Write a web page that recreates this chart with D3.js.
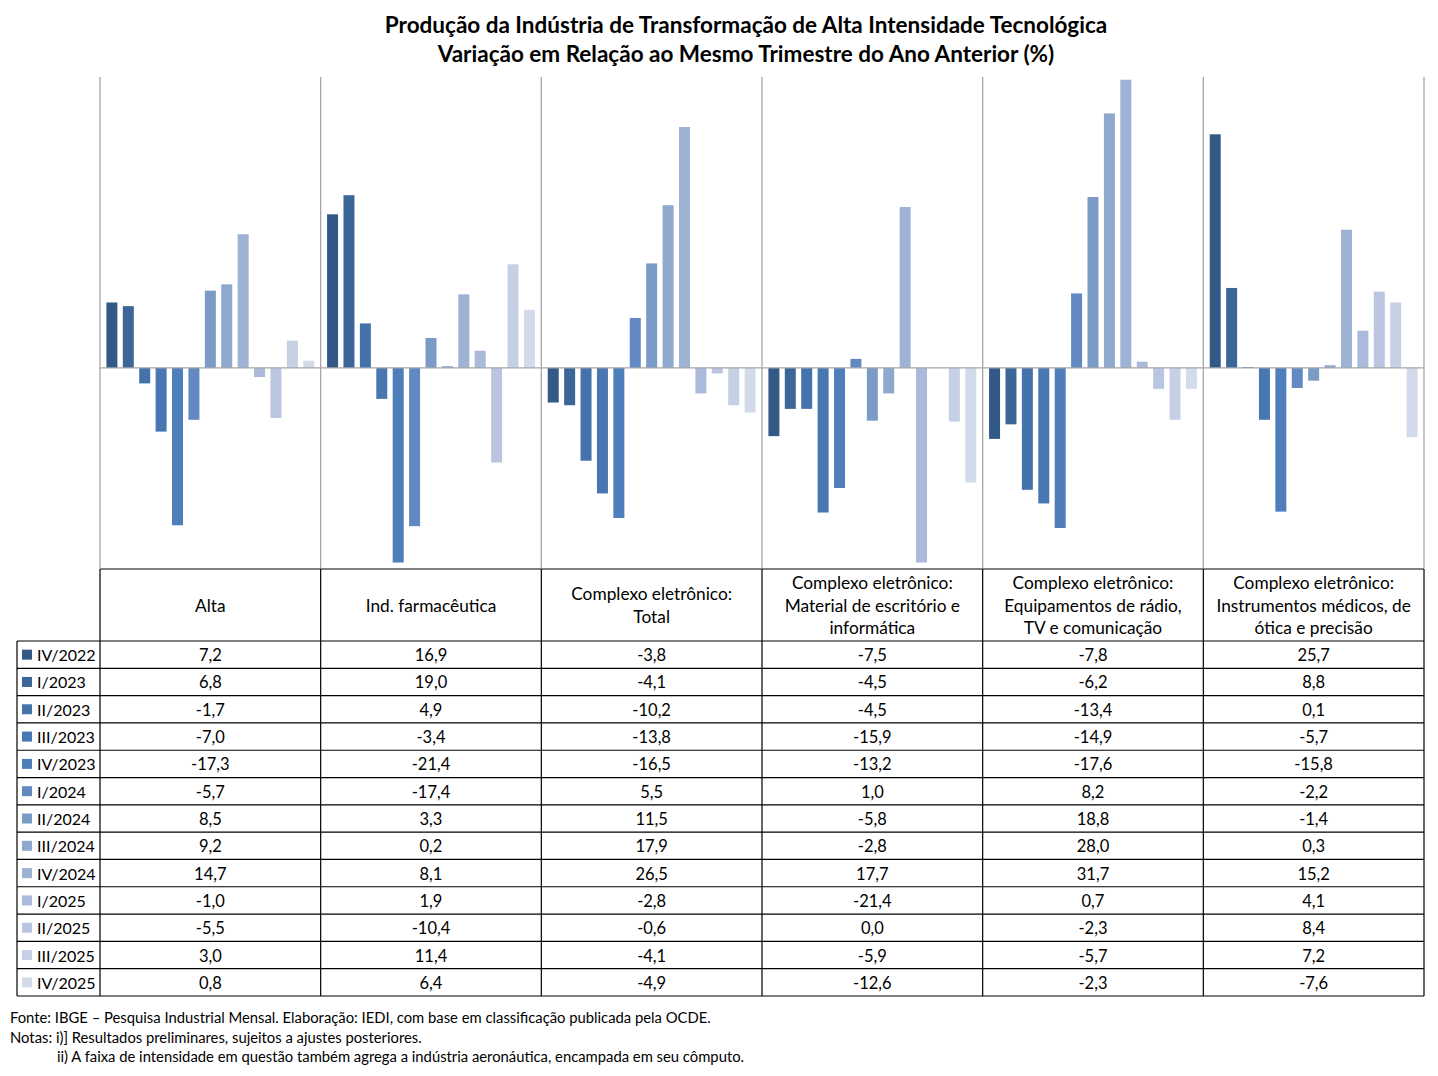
<!DOCTYPE html>
<html>
<head>
<meta charset="utf-8">
<script src="https://cdn.jsdelivr.net/npm/d3@7"></script>
<style>
  body { margin: 0; background: #fff; }
  text { font-family: Lato, "Open Sans", sans-serif; fill: #000; }
</style>
</head>
<body>
<div id="chart"></div>
<script>
// categories (table columns)
var groups = [
  ["Alta"],
  ["Ind. farmacêutica"],
  ["Complexo eletrônico:", "Total"],
  ["Complexo eletrônico:", "Material de escritório e", "informática"],
  ["Complexo eletrônico:", "Equipamentos de rádio,", "TV e comunicação"],
  ["Complexo eletrônico:", "Instrumentos médicos, de", "ótica e precisão"]
];

// series (quarters)
var quarters = ["IV/2022", "I/2023", "II/2023", "III/2023", "IV/2023", "I/2024", "II/2024",
  "III/2024", "IV/2024", "I/2025", "II/2025", "III/2025", "IV/2025"];

var colors = ["#335a87", "#3d6698", "#4472ab", "#4877b1", "#4e7fba", "#6389c2", "#7a9bc6",
  "#8fa8ce", "#9eb2d4", "#abbada", "#bac6e0", "#c6d0e4", "#d3dbea"];

// values: one array per quarter, one entry per group
var vIV22  = [7.2, 16.9, -3.8, -7.5, -7.8, 25.7];
var vI23   = [6.8, 19.0, -4.1, -4.5, -6.2, 8.8];
var vII23  = [-1.7, 4.9, -10.2, -4.5, -13.4, 0.1];
var vIII23 = [-7.0, -3.4, -13.8, -15.9, -14.9, -5.7];
var vIV23  = [-17.3, -21.4, -16.5, -13.2, -17.6, -15.8];
var vI24   = [-5.7, -17.4, 5.5, 1.0, 8.2, -2.2];
var vII24  = [8.5, 3.3, 11.5, -5.8, 18.8, -1.4];
var vIII24 = [9.2, 0.2, 17.9, -2.8, 28.0, 0.3];
var vIV24  = [14.7, 8.1, 26.5, 17.7, 31.7, 15.2];
var vI25   = [-1.0, 1.9, -2.8, -21.4, 0.7, 4.1];
var vII25  = [-5.5, -10.4, -0.6, 0.0, -2.3, 8.4];
var vIII25 = [3.0, 11.4, -4.1, -5.9, -5.7, 7.2];
var vIV25  = [0.8, 6.4, -4.9, -12.6, -2.3, -7.6];

var series = [vIV22, vI23, vII23, vIII23, vIV23, vI24, vII24, vIII24, vIV24, vI25, vII25, vIII25, vIV25];

var titleLines = [
  "Produção da Indústria de Transformação de Alta Intensidade Tecnológica",
  "Variação em Relação ao Mesmo Trimestre do Ano Anterior (%)"
];
var notes = [
  "Fonte: IBGE – Pesquisa Industrial Mensal. Elaboração: IEDI, com base em classificação publicada pela OCDE.",
  "Notas: i)] Resultados preliminares, sujeitos a ajustes posteriores.",
  "ii) A faixa de intensidade em questão também  agrega a indústria aeronáutica, encampada em seu cômputo."
];

var svgWidth = 1438, svgHeight = 1076;
var plot = { left: 100, right: 1424, top: 77, bottom: 568 };
var table = { left: 17, headTop: 569, headBottom: 641, bottom: 996 };

var svg = d3.select("#chart").append("svg")
  .attr("width", svgWidth)
  .attr("height", svgHeight);

var fmt = function(v) { return v.toFixed(1).replace(".", ","); };

// scales
var x0 = d3.scaleBand()
  .domain(d3.range(groups.length))
  .range([plot.left, plot.right])
  .padding(0);

var x1 = d3.scaleBand()
  .domain(d3.range(quarters.length))
  .range([0, x0.bandwidth()])
  .paddingInner(0.33)
  .paddingOuter(0.39);

var y = d3.scaleLinear()
  .domain([-22, 32])
  .range([plot.bottom, plot.top]);

// title
svg.append("g").selectAll("text")
  .data(titleLines)
  .enter()
  .append("text")
  .attr("x", 746)
  .attr("y", (d, i) => 33 + i * 29)
  .attr("text-anchor", "middle")
  .style("font-size", "22.5px")
  .style("font-weight", "bold")
  .text(d => d);

// vertical separators in plot area
svg.append("g").selectAll("line")
  .data(d3.range(groups.length + 1))
  .enter()
  .append("line")
  .attr("x1", d => d < groups.length ? x0(d) : plot.right)
  .attr("x2", d => d < groups.length ? x0(d) : plot.right)
  .attr("y1", plot.top)
  .attr("y2", plot.bottom)
  .attr("stroke", "#a6a6a6")
  .attr("stroke-width", 1.3);

// bars
var barGroups = svg.append("g").selectAll("g")
  .data(series)
  .enter()
  .append("g")
  .attr("fill", (d, i) => colors[i]);

barGroups.each(function(vals, si) {
  d3.select(this).selectAll("rect")
    .data(vals)
    .enter()
    .append("rect")
    .attr("x", (d, gi) => x0(gi) + x1(si))
    .attr("width", x1.bandwidth())
    .attr("y", d => y(Math.max(0, d)))
    .attr("height", d => Math.abs(y(d) - y(0)));
});

// zero line
svg.append("line")
  .attr("x1", plot.left)
  .attr("x2", plot.right)
  .attr("y1", y(0))
  .attr("y2", y(0))
  .attr("stroke", "#a6a6a6")
  .attr("stroke-width", 1.3);

// data table
var rowH = (table.bottom - table.headBottom) / quarters.length;
var tbl = svg.append("g");

// header cells
tbl.selectAll(".head")
  .data(groups)
  .enter()
  .append("text")
  .attr("class", "head")
  .attr("text-anchor", "middle")
  .style("font-size", "17.3px")
  .each(function(lines, gi) {
    var cy = (table.headTop + table.headBottom) / 2;
    var lh = 22.5;
    var start = cy - (lines.length - 1) * lh / 2 + 6.5;
    d3.select(this).selectAll("tspan")
      .data(lines)
      .enter()
      .append("tspan")
      .attr("x", x0(gi) + x0.bandwidth() / 2)
      .attr("y", (d, i) => start + i * lh)
      .text(d => d);
  });

// row lines
tbl.selectAll(".hline")
  .data(d3.range(quarters.length + 1))
  .enter()
  .append("line")
  .attr("x1", table.left)
  .attr("x2", plot.right)
  .attr("y1", d => table.headBottom + d * rowH)
  .attr("y2", d => table.headBottom + d * rowH)
  .attr("stroke", "#000")
  .attr("stroke-width", 1.2);

tbl.append("line")
  .attr("x1", plot.left).attr("x2", plot.right)
  .attr("y1", table.headTop).attr("y2", table.headTop)
  .attr("stroke", "#000").attr("stroke-width", 1.2);

// column lines
tbl.selectAll(".vline")
  .data(d3.range(groups.length + 1))
  .enter()
  .append("line")
  .attr("x1", d => d < groups.length ? x0(d) : plot.right)
  .attr("x2", d => d < groups.length ? x0(d) : plot.right)
  .attr("y1", table.headTop)
  .attr("y2", table.bottom)
  .attr("stroke", "#000")
  .attr("stroke-width", 1.2);

tbl.append("line")
  .attr("x1", table.left).attr("x2", table.left)
  .attr("y1", table.headBottom).attr("y2", table.bottom)
  .attr("stroke", "#000").attr("stroke-width", 1.2);

// legend keys + labels
var rows = tbl.selectAll(".row")
  .data(quarters)
  .enter()
  .append("g")
  .attr("transform", (d, i) => `translate(0, ${table.headBottom + i * rowH})`);

rows.append("rect")
  .attr("x", 22)
  .attr("y", rowH / 2 - 5)
  .attr("width", 10)
  .attr("height", 10)
  .attr("fill", (d, i) => colors[i]);

rows.append("text")
  .attr("x", 37)
  .attr("y", rowH / 2 + 6.5)
  .style("font-size", "16px")
  .text(d => d);

rows.each(function(q, si) {
  d3.select(this).selectAll(".val")
    .data(series[si])
    .enter()
    .append("text")
    .attr("x", (d, gi) => x0(gi) + x0.bandwidth() / 2)
    .attr("y", rowH / 2 + 6.5)
    .attr("text-anchor", "middle")
    .style("font-size", "16.5px")
    .text(d => fmt(d));
});

// notes
svg.append("g").selectAll("text")
  .data(notes)
  .enter()
  .append("text")
  .attr("x", (d, i) => i === 2 ? 57 : 10)
  .attr("y", (d, i) => 1023 + i * 19.5)
  .style("font-size", "14.8px")
  .text(d => d);
</script>
</body>
</html>
